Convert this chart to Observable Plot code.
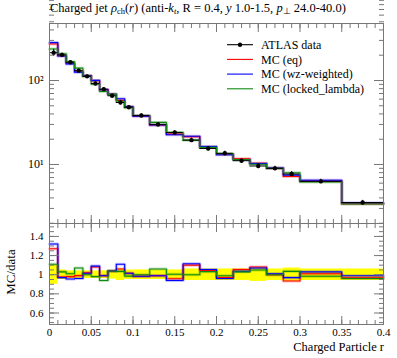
<!DOCTYPE html>
<html>
<head>
<meta charset="utf-8">
<script src="https://cdn.jsdelivr.net/npm/d3@7"></script>
<script src="https://cdn.jsdelivr.net/npm/@observablehq/plot@0.6"></script>
<style>
  body { margin: 0; background: #fff; }
  #chart { position: relative; width: 397px; height: 358px; font-family: "Liberation Serif", serif; color: #000; }
  #chart svg { position: absolute; left: 0; }
  .title { position: absolute; left: 50px; top: 1px; font-size: 12.5px; white-space: nowrap; z-index: 2; }
  .title sub { font-size: 8.5px; vertical-align: -2px; line-height: 0; }
  .ylab { position: absolute; left: 11px; top: 272px; transform: translate(-50%, -50%) rotate(-90deg); font-size: 13px; white-space: nowrap; z-index: 2; }
  .xlab { position: absolute; right: 13px; top: 340px; font-size: 12.5px; white-space: nowrap; z-index: 2; }
</style>
</head>
<body>
<div id="chart">
  <div class="title">Charged jet <i>ρ</i><sub>ch</sub>(<i>r</i>) (anti-<i>k</i><sub><i>t</i></sub>, R = 0.4, <i>y</i> 1.0-1.5, <i>p</i><sub>⊥</sub> 24.0-40.0)</div>
  <div class="ylab">MC/data</div>
  <div class="xlab">Charged Particle r</div>
</div>
<script>
// ---- data ----
const binEdges = [0, 0.01, 0.02, 0.03, 0.04, 0.05, 0.06, 0.07, 0.08, 0.09, 0.1, 0.12, 0.14, 0.16, 0.18, 0.2, 0.22, 0.24, 0.26, 0.28, 0.3, 0.35, 0.4];
const atlasData = [214, 202, 165, 131, 112, 92, 78.7, 65.8, 54.7, 48, 38.3, 29.9, 24.0, 19.5, 15.5, 13.6, 11.1, 9.6, 9.0, 7.7, 6.3, 3.53];
const atlasRelErr = [0.10, 0.05, 0.04, 0.04, 0.04, 0.04, 0.04, 0.045, 0.06, 0.05, 0.05, 0.05, 0.05, 0.06, 0.06, 0.06, 0.06, 0.07, 0.06, 0.07, 0.06, 0.06];
const mcEq = [272, 197, 161.7, 129.7, 114.2, 99.4, 77.9, 68.4, 58.0, 48.7, 37.7, 29.6, 23.0, 21.45, 16.2, 13.2, 11.71, 10.37, 9.0, 7.2, 6.36, 3.42];
const mcWz = [282.5, 195.9, 157.6, 125.8, 113.7, 100.3, 77.9, 68.4, 60.7, 48.7, 37.7, 29.6, 22.56, 21.74, 16.35, 13.06, 11.49, 10.27, 9.09, 7.47, 6.49, 3.49];
const mcLocked = [237.5, 208, 166.7, 140.2, 112, 90.2, 74.0, 68.4, 56.6, 47.3, 38.3, 31.7, 24.1, 19.5, 16.0, 13.46, 11.43, 10.08, 9.0, 7.97, 6.2, 3.39];
const seriesNames = ["MC (eq)", "MC (wz-weighted)", "MC (locked_lambda)"];
const seriesColors = ["#ff0000", "#0000ff", "#118811"];
const legendLabels = ["ATLAS data", "MC (eq)", "MC (wz-weighted)", "MC (locked_lambda)"];
const xMajorTicks = [0, 0.05, 0.1, 0.15, 0.2, 0.25, 0.3, 0.35, 0.4];
const yMainMajor = [10, 100];
const ratioMajor = [0.6, 0.8, 1, 1.2, 1.4];

// ---- derived tables ----
const mcSeries = [mcEq, mcWz, mcLocked];
const bins = atlasData.map((v, i) => ({
  x1: binEdges[i], x2: binEdges[i + 1], xm: (binEdges[i] + binEdges[i + 1]) / 2,
  y: v, lo: v * (1 - atlasRelErr[i]), hi: v * (1 + atlasRelErr[i]),
  rlo: 1 - atlasRelErr[i], rhi: 1 + atlasRelErr[i]
}));
function stepPoints(vals, ratio) {
  const pts = vals.map((v, i) => ({x: binEdges[i], y: ratio ? v / atlasData[i] : v}));
  const last = vals.length - 1;
  pts.push({x: binEdges[last + 1], y: ratio ? vals[last] / atlasData[last] : vals[last]});
  return pts;
}
const xMinor = d3.range(0, 41).map(i => i / 100);
const yMainMinor = [];
for (const dec of [1, 10, 100]) for (let m = 2; m <= 9; m++) yMainMinor.push(m * dec);
const ratioMinor = d3.range(10, 31).map(i => i * 0.05);
const fmt = d => String(+(+d).toFixed(2));
const axisCol = "#777";

function seriesMarks(ratio) {
  const marks = [];
  mcSeries.forEach((vals, s) => {
    marks.push(Plot.line(stepPoints(vals, ratio), {x: "x", y: "y", curve: "step-after", stroke: seriesColors[s], strokeWidth: 3, strokeOpacity: 0.25}));
  });
  mcSeries.forEach((vals, s) => {
    marks.push(Plot.line(stepPoints(vals, ratio), {x: "x", y: "y", curve: "step-after", stroke: seriesColors[s], strokeWidth: 1.1}));
  });
  return marks;
}
function xTickAxes(anchor) {
  return [
    Plot.axisX(xMinor, {anchor, tickSize: -4, tickFormat: () => "", label: null, stroke: axisCol}),
    Plot.axisX(xMajorTicks, {anchor, tickSize: -8, tickFormat: () => "", label: null, stroke: axisCol})
  ];
}

// ---- main panel ----
const main = Plot.plot({
  width: 397, height: 223,
  marginLeft: 49, marginRight: 14, marginTop: 23, marginBottom: 0,
  x: {domain: [0, 0.4], axis: null},
  y: {type: "log", domain: [1.985, 477], axis: null},
  style: {fontFamily: "Liberation Serif", fontSize: "11px", background: "transparent", overflow: "visible"},
  marks: [
    ...seriesMarks(false),
    Plot.ruleY(bins, {x1: "x1", x2: "x2", y: "y", stroke: "black", strokeWidth: 1}),
    Plot.ruleX(bins, {x: "xm", y1: "lo", y2: "hi", stroke: "black", strokeWidth: 1}),
    Plot.dot(bins, {x: "xm", y: "y", r: 2.2, fill: "black", stroke: "none"}),
    Plot.frame({stroke: axisCol}),
    ...xTickAxes("top"),
    ...xTickAxes("bottom"),
    Plot.axisY(yMainMinor, {anchor: "left", tickSize: -5, tickFormat: () => "", label: null, stroke: axisCol}),
    Plot.axisY(yMainMajor, {anchor: "left", tickSize: -10, tickFormat: () => "", label: null, stroke: axisCol}),
    Plot.axisY(yMainMinor, {anchor: "right", tickSize: -5, tickFormat: () => "", label: null, stroke: axisCol}),
    Plot.axisY(yMainMajor, {anchor: "right", tickSize: -10, tickFormat: () => "", label: null, stroke: axisCol}),
    Plot.axisY(yMainMajor, {anchor: "left", tickSize: 0, tickPadding: 6, label: null, fontSize: 12,
      tickFormat: d => "10" + ["⁰", "¹", "²", "³"][Math.round(Math.log10(d))]})
  ]
});
main.style.top = "0px";

// legend
{
  const g = d3.select(main).append("g").attr("font-family", "Liberation Serif").attr("font-size", 12).attr("text-anchor", "start");
  const colors = ["black", ...seriesColors];
  legendLabels.forEach((lab, i) => {
    const y = 44.7 + i * 14.7;
    g.append("line").attr("x1", 227).attr("x2", 253).attr("y1", y).attr("y2", y)
      .attr("stroke", colors[i]).attr("stroke-width", 1.1);
    if (i === 0) g.append("circle").attr("cx", 240).attr("cy", y).attr("r", 2.2).attr("fill", "black");
    g.append("text").attr("x", 261).attr("y", y).attr("dy", "0.35em").attr("text-anchor", "start").text(lab);
  });
}

// ---- ratio panel ----
const ratio = Plot.plot({
  width: 397, height: 135,
  marginLeft: 49, marginRight: 14, marginTop: 0, marginBottom: 34,
  x: {domain: [0, 0.4], axis: null},
  y: {domain: [0.48, 1.535], axis: null},
  style: {fontFamily: "Liberation Serif", fontSize: "11px", background: "transparent", overflow: "visible"},
  marks: [
    Plot.rect(bins, {x1: "x1", x2: "x2", y1: "rlo", y2: "rhi", fill: "#ffff00"}),
    ...seriesMarks(true),
    Plot.frame({stroke: axisCol}),
    ...xTickAxes("top"),
    ...xTickAxes("bottom"),
    Plot.axisX(xMajorTicks, {anchor: "bottom", tickSize: 0, tickPadding: 4, tickFormat: fmt, label: null, fontSize: 11}),
    Plot.axisY(ratioMinor, {anchor: "left", tickSize: -5, tickFormat: () => "", label: null, stroke: axisCol}),
    Plot.axisY(ratioMajor, {anchor: "left", tickSize: -10, tickFormat: () => "", label: null, stroke: axisCol}),
    Plot.axisY(ratioMinor, {anchor: "right", tickSize: -5, tickFormat: () => "", label: null, stroke: axisCol}),
    Plot.axisY(ratioMajor, {anchor: "right", tickSize: -10, tickFormat: () => "", label: null, stroke: axisCol}),
    Plot.axisY(ratioMajor, {anchor: "left", tickSize: 0, tickPadding: 6, tickFormat: fmt, label: null, fontSize: 11})
  ]
});
ratio.style.top = "223px";

const chart = document.getElementById("chart");
chart.appendChild(main);
chart.appendChild(ratio);
</script>
</body>
</html>
